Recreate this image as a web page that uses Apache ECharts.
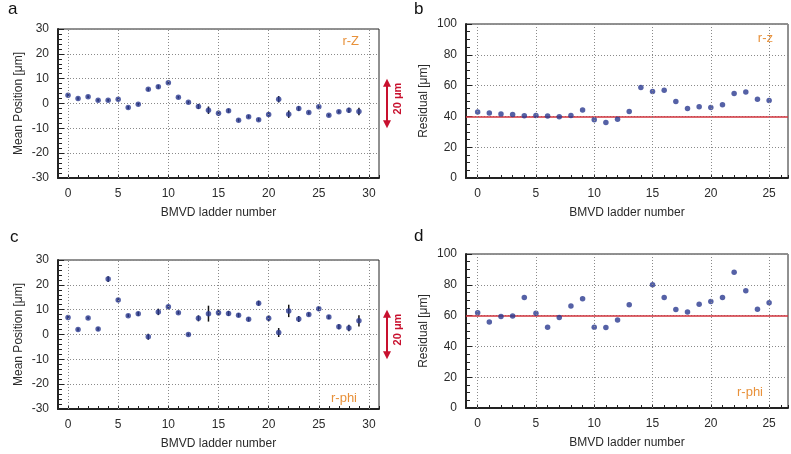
<!DOCTYPE html>
<html>
<head>
<meta charset="utf-8">
<script src="https://cdn.jsdelivr.net/npm/echarts@6/dist/echarts.min.js"></script>
<style>
html,body{margin:0;padding:0;background:#fff;}
#chart{width:791px;height:454px;}
</style>
</head>
<body>
<div id="chart"></div>
<script>
// ---------- data ----------
const ladders30 = [0,1,2,3,4,5,6,7,8,9,10,11,12,13,14,15,16,17,18,19,20,21,22,23,24,25,26,27,28,29];
const meanRZ = [3.3,2.0,2.7,1.3,1.3,1.7,-1.6,-0.3,5.7,6.7,8.4,2.5,0.5,-1.2,-2.7,-3.9,-2.9,-6.7,-5.3,-6.5,-4.4,1.7,-4.3,-2.0,-3.6,-1.3,-4.7,-3.3,-2.7,-3.2];
const errRZ  = [0.6,0.5,0.5,0.5,0.5,0.5,0.6,0.5,0.6,0.7,0.6,0.5,0.5,1.0,1.5,1.0,0.8,0.6,0.6,0.6,0.8,1.3,1.5,0.9,0.5,0.6,0.5,0.6,1.0,1.5];
const meanRPhi = [6.8,2.0,6.6,2.2,22.3,13.9,7.6,8.4,-0.9,9.1,11.2,8.8,0.0,6.5,8.4,8.8,8.5,7.8,6.1,12.6,6.5,0.8,9.5,6.2,8.1,10.4,7.0,3.1,2.6,5.5];
const errRPhi  = [0.6,0.5,0.5,0.6,1.2,0.7,0.6,0.8,1.2,1.3,0.7,0.6,0.5,1.2,3.2,1.3,1.0,0.8,0.8,1.0,1.2,1.8,2.5,1.2,0.8,0.8,0.8,1.0,1.3,2.3];
const ladders26 = [0,1,2,3,4,5,6,7,8,9,10,11,12,13,14,15,16,17,18,19,20,21,22,23,24,25];
const residRZ = [42.8,42.2,41.5,41.3,40.4,40.6,40.2,39.8,40.6,44.1,37.8,36.1,38.1,43.2,58.7,56.1,57.0,49.7,45.2,46.2,45.8,47.5,54.8,55.9,51.2,50.3];
const residRPhi = [61.9,55.9,59.4,59.8,71.8,61.5,52.5,58.7,66.2,71.0,52.5,52.3,57.2,67.1,null,80.0,71.8,63.9,62.4,67.3,69.2,71.8,88.2,76.1,64.1,68.3];
const refRZ = 40, refRPhi = 60;
const xMajorTicks30 = [0,5,10,15,20,25,30];
const xMajorTicks26 = [0,5,10,15,20,25];
const scaleBar = [10,-10]; // 20 µm arrow span

// ---------- style ----------
const FONT = "'Liberation Sans', Arial, Helvetica, sans-serif";
const TXT = '#2b2b2b';
const PT = '#2b3990';
const RED = '#c8102e';
const ORANGE = '#e8913a';

const chart = echarts.init(document.getElementById('chart'), null, {renderer:'canvas'});

const grids = [
  {left:58, top:29, width:321, height:149},
  {left:466, top:24, width:327, height:154},
  {left:58, top:260, width:321, height:149},
  {left:466, top:254, width:327, height:154}
];

function xAxisDef(i, max) {
  return {
    gridIndex:i, type:'value', min:-1, max:max, interval:1,
    name:'BMVD ladder number', nameLocation:'middle', nameGap:29,
    nameTextStyle:{color:TXT, fontSize:12, fontFamily:FONT},
    axisLine:{show:true, onZero:false, lineStyle:{color:'#222', width:2}},
    axisTick:{show:true, inside:true, length:3, lineStyle:{color:'#222', width:1}},
    axisLabel:{color:TXT, fontSize:12, fontFamily:FONT, margin:10,
      formatter: v => (Math.abs(v % 5) < 1e-9 && v >= 0 && v <= 30) ? String(v) : ''},
    splitLine:{show:false}
  };
}
function yAxisDef(i, min, max, interval, minorSplit, name, gap) {
  return {
    gridIndex:i, type:'value', min:min, max:max, interval:interval,
    name:name, nameLocation:'middle', nameGap:gap,
    nameTextStyle:{color:TXT, fontSize:12, fontFamily:FONT},
    axisLine:{show:true, onZero:false, lineStyle:{color:'#222', width:2}},
    axisTick:{show:true, inside:true, length:6, lineStyle:{color:'#222', width:1}},
    minorTick:{show:true, splitNumber:minorSplit, length:4, lineStyle:{color:'#222', width:1}},
    axisLabel:{color:TXT, fontSize:12, fontFamily:FONT, margin:9},
    splitLine:{show:true, lineStyle:{color:'#8a8a8a', type:[1,2], width:1}}
  };
}

function gridLinesSeries(i, ticks) {
  return {
    type:'line', xAxisIndex:i, yAxisIndex:i, data:[], silent:true, z:1,
    markLine:{silent:true, symbol:['none','none'], animation:false, label:{show:false},
      lineStyle:{color:'#8a8a8a', type:[1,2], width:1},
      data: ticks.map(t => ({xAxis:t}))}
  };
}
function errorSeries(i, xs, ys, es) {
  return {
    type:'custom', xAxisIndex:i, yAxisIndex:i, z:3, silent:true,
    data: xs.map((x,k) => [x, ys[k], es[k]]),
    renderItem: function(params, api) {
      const x = api.value(0), y = api.value(1), e = api.value(2);
      const p1 = api.coord([x, y - e]);
      const p2 = api.coord([x, y + e]);
      return {type:'line', shape:{x1:p1[0], y1:p1[1], x2:p2[0], y2:p2[1]},
        style:{stroke:'#111', lineWidth:1.5}};
    }
  };
}
function pointSeries(i, xs, ys, ref) {
  const s = {
    type:'scatter', xAxisIndex:i, yAxisIndex:i, z:4, symbolSize:5.5,
    itemStyle:{color:PT},
    data: xs.map((x,k) => ys[k] == null ? null : [x, ys[k]]).filter(d => d)
  };
  if (ref != null) {
    s.markLine = {silent:true, symbol:['none','none'], animation:false, label:{show:false},
      lineStyle:{color:'#d2333c', type:'solid', width:1.5}, z:2,
      data:[{yAxis:ref}]};
  }
  return s;
}

const option = {
  animation:false,
  backgroundColor:'#fff',
  textStyle:{fontFamily:FONT},
  grid: grids.map(g => Object.assign({show:true, borderColor:'#222', borderWidth:1, containLabel:false}, g)),
  xAxis:[xAxisDef(0,31), xAxisDef(1,26.62), xAxisDef(2,31), xAxisDef(3,26.62)],
  yAxis:[
    yAxisDef(0,-30,30,10,5,'Mean Position [μm]',33),
    yAxisDef(1,0,100,20,4,'Residual [μm]',36),
    yAxisDef(2,-30,30,10,5,'Mean Position [μm]',33),
    yAxisDef(3,0,100,20,4,'Residual [μm]',36)
  ],
  series:[
    gridLinesSeries(0, xMajorTicks30),
    gridLinesSeries(1, xMajorTicks26),
    gridLinesSeries(2, xMajorTicks30),
    gridLinesSeries(3, xMajorTicks26),
    errorSeries(0, ladders30, meanRZ, errRZ),
    pointSeries(0, ladders30, meanRZ, null),
    pointSeries(1, ladders26, residRZ, refRZ),
    errorSeries(2, ladders30, meanRPhi, errRPhi),
    pointSeries(2, ladders30, meanRPhi, null),
    pointSeries(3, ladders26, residRPhi, refRPhi)
  ]
};
chart.setOption(option);

// ---------- annotations ----------
const gfx = [];
function label(text, x, y, size, color, extra) {
  gfx.push({type:'text', x:x, y:y,
    style:{text:text, fill:color, font: (extra && extra.weight ? extra.weight + ' ' : '') + size + 'px ' + FONT,
      textAlign:(extra && extra.align) || 'left', textVerticalAlign:'middle'}});
}
label('a', 8, 9, 17, '#111');
label('b', 414, 9, 17, '#111');
label('c', 10, 237, 17, '#111');
label('d', 414, 236, 17, '#111');
label('r-Z', 359, 41, 13, ORANGE, {align:'right'});
label('r-z', 773, 38, 13, ORANGE, {align:'right'});
label('r-phi', 357, 398, 13, ORANGE, {align:'right'});
label('r-phi', 763, 392, 13, ORANGE, {align:'right'});

function scaleArrow(idx) {
  const top = chart.convertToPixel({xAxisIndex:idx, yAxisIndex:idx}, [31.8, scaleBar[0]]);
  const bot = chart.convertToPixel({xAxisIndex:idx, yAxisIndex:idx}, [31.8, scaleBar[1]]);
  const x = top[0];
  gfx.push({type:'line', shape:{x1:x, y1:top[1]+6, x2:x, y2:bot[1]-6}, style:{stroke:RED, lineWidth:2}});
  gfx.push({type:'polygon', shape:{points:[[x,top[1]],[x-4,top[1]+8],[x+4,top[1]+8]]}, style:{fill:RED}});
  gfx.push({type:'polygon', shape:{points:[[x,bot[1]],[x-4,bot[1]-8],[x+4,bot[1]-8]]}, style:{fill:RED}});
  const mid = (top[1] + bot[1]) / 2 - 5;
  gfx.push({type:'text', x:x+11, y:mid, rotation:Math.PI/2,
    style:{text:'20 μm', fill:RED, font:'bold 11px ' + FONT, textAlign:'center', textVerticalAlign:'middle'}});
}
scaleArrow(0);
scaleArrow(2);
chart.setOption({graphic: gfx});
</script>
</body>
</html>
